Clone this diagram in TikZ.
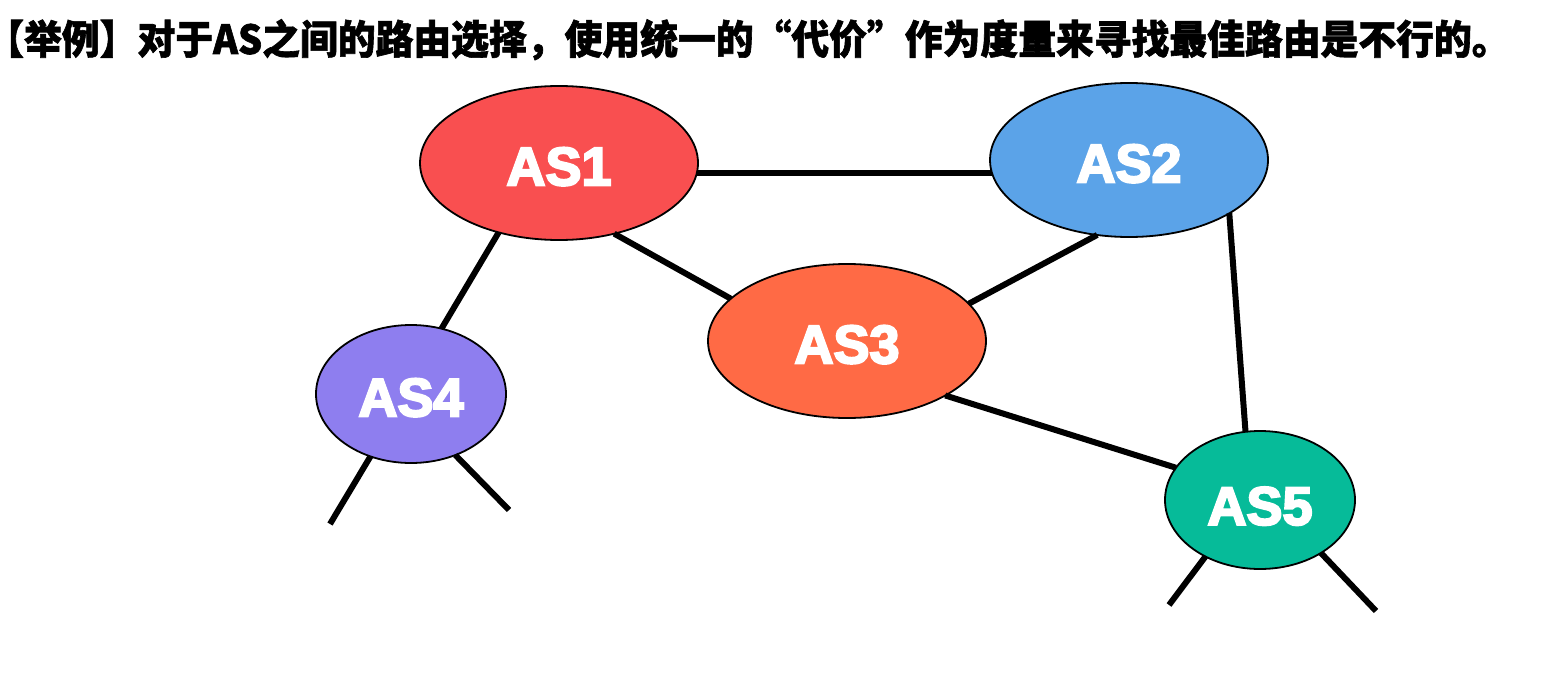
\documentclass[tikz,border=0pt]{standalone}
\usepackage{fontspec}
\usetikzlibrary{shapes.geometric}
\newfontfamily\cjkbold[FakeBold=1.5,FakeStretch=0.945]{Noto Sans CJK SC Black}
\newfontfamily\labelfont[FakeBold=4]{Liberation Sans Bold}
\definecolor{cAone}{HTML}{F94F50}
\definecolor{cAtwo}{HTML}{5BA3E8}
\definecolor{cAthree}{HTML}{FF6A45}
\definecolor{cAfour}{HTML}{8E7EEF}
\definecolor{cAfive}{HTML}{06BB99}
\tikzset{
  asbig/.style={ellipse, draw=black, line width=1.8pt, inner sep=0pt, outer sep=0pt,
    minimum width=278pt, minimum height=154pt, text=white, text height=45pt,
    font=\labelfont\fontsize{54}{54}\selectfont},
  assmall/.style={asbig, minimum width=190pt, minimum height=138pt},
  link/.style={line width=6pt, black},
}
\begin{document}
\begin{tikzpicture}[x=1pt,y=-1pt]
\useasboundingbox (0,0) rectangle (1557,674);
\node[anchor=base west, inner sep=0pt, font=\cjkbold\fontsize{40}{40}\selectfont] (title) at (5,54)
  {{\addfontfeature{RawFeature=+halt}【}举例】对于AS之间的路由选择，使用统一的“代价”作为度量来寻找最佳路由是不行的。};
\node[asbig, fill=cAone] (AS1) at (559,163) {AS1};
\node[asbig, fill=cAtwo] (AS2) at (1129,160) {AS2};
\node[asbig, fill=cAthree] (AS3) at (847,341) {AS3};
\node[assmall, fill=cAfour] (AS4) at (411,394) {AS4};
\node[assmall, fill=cAfive, text height=50pt] (AS5) at (1260,500) {AS5};
\coordinate (t4a) at (330,524);
\coordinate (t4b) at (509,510);
\coordinate (t5a) at (1169,605);
\coordinate (t5b) at (1376,611);
\draw[link] (AS1.-4.5) -- (AS1.-4.5 -| AS2.-174.2);
\draw[link] (AS1.-52.4) -- (AS3.160.1);
\draw[link] (AS1.-131.9) -- (AS4.65.6);
\draw[link] (AS2.-113.7) -- (AS3.17.1);
\draw[link] (AS2.-28.6) -- (AS5.102);
\draw[link] (AS3.-29.8) -- (AS5.159.1);
\draw[link] (AS4.-123) -- (t4a);
\draw[link] (AS4.-54) -- (t4b);
\draw[link] (AS5.-134) -- (t5a);
\draw[link] (AS5.-41) -- (t5b);
\end{tikzpicture}
\end{document}
